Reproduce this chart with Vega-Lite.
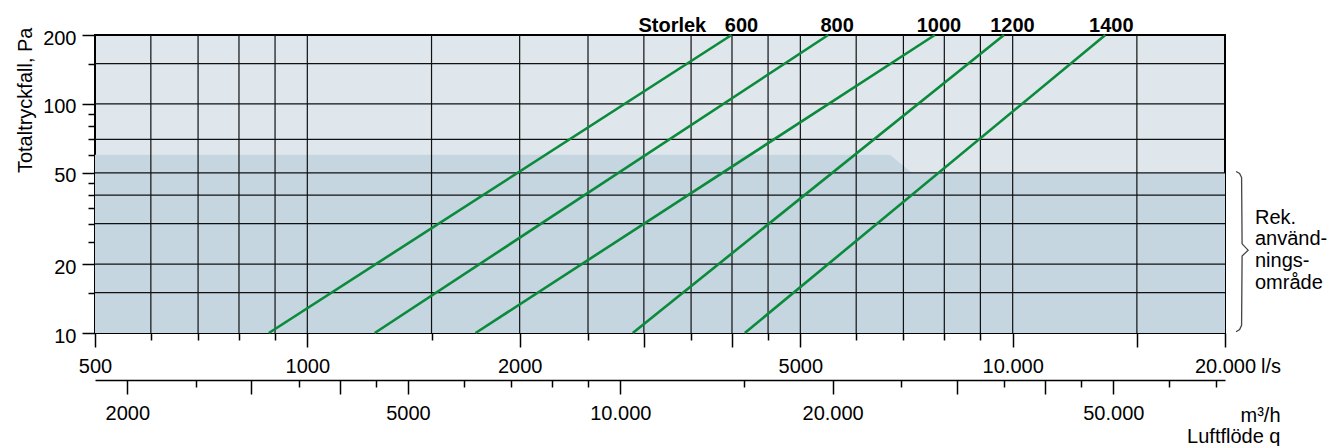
{
  "$schema": "https://vega.github.io/schema/vega-lite/v6.json",
  "width": 1130,
  "height": 298,
  "autosize": {"type": "none"},
  "padding": {"left": 95, "top": 35, "right": 105, "bottom": 113},
  "background": "#ffffff",
  "config": {
    "font": "Liberation Sans",
    "view": {"fill": "#dfe7ed", "stroke": "#000000", "strokeWidth": 2},
    "axis": {"labelFont": "Liberation Sans", "titleFont": "Liberation Sans", "labelFontSize": 20, "titleFontSize": 20, "labelColor": "#000000", "titleColor": "#000000", "titleFontWeight": "normal"},
    "text": {"font": "Liberation Sans"}
  },
  "datasets": {
    "zone": [
      {"q": 500, "p": 60},
      {"q": 6700, "p": 60},
      {"q": 7200, "p": 50},
      {"q": 20000, "p": 50}
    ],
    "qgrid": [
      {"q": 600}, {"q": 700}, {"q": 800}, {"q": 900}, {"q": 1000}, {"q": 1500}, {"q": 2000}, {"q": 2500},
      {"q": 3000}, {"q": 3500}, {"q": 4000}, {"q": 4500}, {"q": 5000}, {"q": 6000}, {"q": 7000},
      {"q": 8000}, {"q": 9000}, {"q": 10000}, {"q": 15000}
    ],
    "pgrid": [
      {"p": 15}, {"p": 20}, {"p": 30}, {"p": 40}, {"p": 50}, {"p": 70}, {"p": 100}, {"p": 150}
    ],
    "curves": [
      {"size": "600", "q": 882, "p": 10}, {"size": "600", "q": 3994, "p": 200},
      {"size": "800", "q": 1246, "p": 10}, {"size": "800", "q": 5476, "p": 200},
      {"size": "1000", "q": 1732, "p": 10}, {"size": "1000", "q": 7756, "p": 200},
      {"size": "1200", "q": 2893, "p": 10}, {"size": "1200", "q": 9720, "p": 200},
      {"size": "1400", "q": 4171, "p": 10}, {"size": "1400", "q": 13531, "p": 200}
    ],
    "sizeLabels": [
      {"label": "Storlek", "q": 3292, "p": 200},
      {"label": "600", "q": 4127, "p": 200},
      {"label": "800", "q": 5639, "p": 200},
      {"label": "1000", "q": 7862, "p": 200},
      {"label": "1200", "q": 9991, "p": 200},
      {"label": "1400", "q": 13800, "p": 200}
    ],
    "brace": [
      {"i": 1, "q": 20736, "p": 50.7},
      {"i": 2, "q": 20977, "p": 49.7},
      {"i": 3, "q": 21113, "p": 47.7},
      {"i": 4, "q": 21148, "p": 24.5},
      {"i": 5, "q": 21567, "p": 23.0},
      {"i": 6, "q": 21148, "p": 21.7},
      {"i": 7, "q": 21113, "p": 10.8},
      {"i": 8, "q": 20977, "p": 10.35},
      {"i": 9, "q": 20736, "p": 10.13}
    ],
    "note": [
      {"text": "Rek.\nanvänd-\nnings-\nområde", "q": 20000, "p": 30}
    ],
    "unit": [
      {"text": "l/s", "q": 20000, "p": 10}
    ],
    "m3h": [{"m": 1800}, {"m": 72000}]
  },
  "layer": [
    {
      "data": {"name": "zone"},
      "mark": {"type": "area", "color": "#c5d6e1", "interpolate": "linear"},
      "encoding": {
        "x": {
          "field": "q", "type": "quantitative",
          "scale": {"type": "log", "domain": [500, 20000], "nice": false, "zero": false},
          "axis": {
            "orient": "bottom",
            "values": [500, 600, 700, 800, 900, 1000, 1500, 2000, 2500, 3000, 3500, 4000, 4500, 5000, 6000, 7000, 8000, 9000, 10000, 15000, 20000],
            "grid": false,
            "domain": false,
            "tickColor": "#000000",
            "tickWidth": 1.5,
            "tickSize": {"condition": {"test": "indexof([500,1000,2000,3000,4000,5000,10000,15000,20000], datum.value) >= 0", "value": 14}, "value": 7},
            "labelExpr": "datum.value == 20000 ? '20.000' : datum.value == 10000 ? '10.000' : datum.value == 5000 ? '5000' : datum.value == 2000 ? '2000' : datum.value == 1000 ? '1000' : datum.value == 500 ? '500' : ''",
            "labelBaseline": "top",
            "labelPadding": 9,
            "labelOverlap": false,
            "labelBound": false,
            "labelFlush": false,
            "title": null
          }
        },
        "y": {
          "field": "p", "type": "quantitative",
          "scale": {"type": "log", "domain": [10, 200], "nice": false, "zero": false},
          "axis": {
            "orient": "left",
            "values": [10, 15, 20, 25, 30, 35, 40, 45, 50, 60, 70, 80, 90, 100, 150, 200],
            "grid": false,
            "domain": false,
            "tickColor": "#000000",
            "tickWidth": 1.5,
            "tickSize": {"condition": {"test": "indexof([10,20,50,100,200], datum.value) >= 0", "value": 13}, "value": 7},
            "labelExpr": "datum.value == 200 ? '200' : datum.value == 100 ? '100' : datum.value == 50 ? '50' : datum.value == 20 ? '20' : datum.value == 10 ? '10' : ''",
            "labelAlign": "right",
            "labelBaseline": "middle",
            "labelPadding": 6,
            "labelOffset": 3,
            "labelOverlap": false,
            "labelBound": false,
            "labelFlush": false,
            "title": "Totaltryckfall, Pa",
            "titleAngle": -90,
            "titleAlign": "right",
            "titleBaseline": "alphabetic",
            "titleX": -64,
            "titleY": -8
          }
        },
        "y2": {"datum": 10}
      }
    },
    {
      "data": {"name": "qgrid"},
      "mark": {"type": "rule", "color": "#111111", "strokeWidth": 1.2},
      "encoding": {"x": {"field": "q", "type": "quantitative", "scale": {"type": "log", "domain": [500, 20000], "nice": false, "zero": false}, "axis": null}}
    },
    {
      "data": {"name": "pgrid"},
      "mark": {"type": "rule", "color": "#111111", "strokeWidth": 1.2},
      "encoding": {"y": {"field": "p", "type": "quantitative", "axis": null}}
    },
    {
      "data": {"name": "curves"},
      "mark": {"type": "line", "color": "#0b8a3b", "strokeWidth": 2.6},
      "encoding": {
        "x": {"field": "q", "type": "quantitative", "scale": {"type": "log", "domain": [500, 20000], "nice": false, "zero": false}, "axis": null},
        "y": {"field": "p", "type": "quantitative", "axis": null},
        "detail": {"field": "size", "type": "nominal"}
      }
    },
    {
      "data": {"name": "sizeLabels"},
      "mark": {"type": "text", "fontSize": 20, "fontWeight": "bold", "align": "center", "baseline": "alphabetic", "dy": -3, "color": "#000000"},
      "encoding": {
        "x": {"field": "q", "type": "quantitative", "scale": {"type": "log", "domain": [500, 20000], "nice": false, "zero": false}, "axis": null},
        "y": {"field": "p", "type": "quantitative", "axis": null},
        "text": {"field": "label"}
      }
    },
    {
      "data": {"name": "brace"},
      "mark": {"type": "line", "color": "#444444", "strokeWidth": 1.3, "clip": false},
      "encoding": {
        "x": {"field": "q", "type": "quantitative", "scale": {"type": "log", "domain": [500, 20000], "nice": false, "zero": false}, "axis": null},
        "y": {"field": "p", "type": "quantitative", "axis": null},
        "order": {"field": "i"}
      }
    },
    {
      "data": {"name": "note"},
      "mark": {"type": "text", "fontSize": 20, "align": "left", "baseline": "alphabetic", "lineBreak": "\n", "lineHeight": 21.7, "dx": 30, "color": "#000000"},
      "encoding": {
        "x": {"field": "q", "type": "quantitative", "scale": {"type": "log", "domain": [500, 20000], "nice": false, "zero": false}, "axis": null},
        "y": {"field": "p", "type": "quantitative", "axis": null},
        "text": {"field": "text"}
      }
    },
    {
      "data": {"name": "unit"},
      "mark": {"type": "text", "fontSize": 20, "align": "left", "baseline": "alphabetic", "dx": 36, "dy": 40, "color": "#000000"},
      "encoding": {
        "x": {"field": "q", "type": "quantitative", "scale": {"type": "log", "domain": [500, 20000], "nice": false, "zero": false}, "axis": null},
        "y": {"field": "p", "type": "quantitative", "axis": null},
        "text": {"field": "text"}
      }
    },
    {
      "data": {"name": "m3h"},
      "mark": {"type": "point", "opacity": 0},
      "encoding": {
        "x": {
          "field": "m", "type": "quantitative",
          "scale": {"type": "log", "domain": [1800, 72000], "nice": false, "zero": false},
          "axis": {
            "orient": "bottom",
            "offset": 47,
            "values": [2000, 2500, 3000, 3500, 4000, 4500, 5000, 6000, 7000, 8000, 9000, 10000, 15000, 20000, 25000, 30000, 35000, 40000, 45000, 50000, 60000, 70000],
            "grid": false,
            "domain": true,
            "domainColor": "#000000",
            "domainWidth": 1.5,
            "tickColor": "#000000",
            "tickWidth": 1.5,
            "tickSize": {"condition": {"test": "indexof([2000,3000,4000,5000,10000,20000,30000,40000,50000], datum.value) >= 0", "value": 14}, "value": 7},
            "labelExpr": "datum.value == 2000 ? '2000' : datum.value == 5000 ? '5000' : datum.value == 10000 ? '10.000' : datum.value == 20000 ? '20.000' : datum.value == 50000 ? '50.000' : ''",
            "labelBaseline": "top",
            "labelPadding": 9,
            "labelOverlap": false,
            "labelBound": false,
            "labelFlush": false,
            "title": ["m³/h", "Luftflöde q"],
            "titleAngle": 0,
            "titleAlign": "right",
            "titleBaseline": "alphabetic",
            "titleLineHeight": 21,
            "titleX": 1185,
            "titleY": 41
          }
        }
      }
    }
  ],
  "resolve": {"scale": {"x": "independent"}, "axis": {"y": "independent"}}
}
